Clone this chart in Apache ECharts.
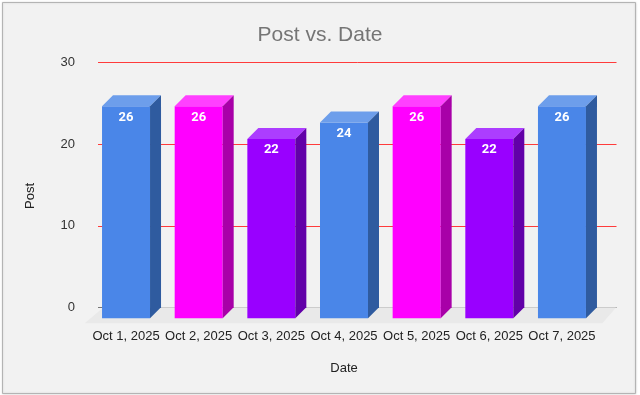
<!DOCTYPE html>
<html>
<head>
<meta charset="utf-8">
<script src="https://cdn.jsdelivr.net/npm/echarts@6/dist/echarts.min.js"></script>
<style>
html,body{margin:0;padding:0;background:#fff;}
#c{width:640px;height:395px;}
</style>
</head>
<body>
<div id="c"></div>
<script>
const categories = ['Oct 1, 2025','Oct 2, 2025','Oct 3, 2025','Oct 4, 2025','Oct 5, 2025','Oct 6, 2025','Oct 7, 2025'];
const postValues = [26, 26, 22, 24, 26, 22, 26];
const yTicks = [0, 10, 20, 30];

const palette = [
  {front:'#4a86e8', top:'#6d9eeb', side:'#2f5b9f'},
  {front:'#ff00ff', top:'#ff40ff', side:'#a800a8'},
  {front:'#9900ff', top:'#ac3dff', side:'#6200a8'}
];
const colorIdx = [0,1,2,0,1,2,0];
const DX = 11, DY = 11, BAR_W = 48;

const chart = echarts.init(document.getElementById('c'), null, {renderer:'canvas'});
chart.setOption({
  animation:false,
  backgroundColor:'#ffffff',
  graphic:[{type:'rect', z:-10, silent:true, shape:{x:2.5,y:2.5,width:633,height:391},
    style:{fill:'#f2f2f2', stroke:'#b4b4b4', lineWidth:1, shadowColor:'rgba(0,0,0,0.15)', shadowBlur:2}}],
  title:{text:'Post vs. Date', left:'center', top:20,
    textStyle:{fontFamily:'Liberation Sans, Arial', fontSize:21, fontWeight:'normal', color:'#757575'}},
  grid:[
    {left:98, right:23.5, top:62.7, bottom:87.7, containLabel:false},
    {left:89.7, right:41.7, top:73.7, bottom:76.7, containLabel:false}
  ],
  xAxis:[
    {gridIndex:0, type:'category', data:categories, show:false},
    {gridIndex:1, type:'category', data:categories, name:'Date', nameLocation:'middle', nameGap:44,
      nameTextStyle:{fontFamily:'Liberation Sans, Arial', fontSize:13, color:'#222'},
      axisLine:{show:false}, axisTick:{show:false},
      axisLabel:{margin:12, fontFamily:'Liberation Sans, Arial', fontSize:13, color:'#222', interval:0}}
  ],
  yAxis:[
    {gridIndex:0, type:'value', min:0, max:30, interval:10,
      axisLine:{show:false}, axisTick:{show:false},
      axisLabel:{margin:23, fontFamily:'Liberation Sans, Arial', fontSize:13, color:'#333',
        formatter:v => yTicks.indexOf(v) >= 0 ? String(v) : ''},
      splitLine:{show:true, lineStyle:{color:['#777777','#ff3b3b','#ff3b3b','#ff3b3b'], width:1}}},
    {gridIndex:1, type:'value', min:0, max:30, interval:10, name:'Post', nameLocation:'middle', nameGap:53,
      nameTextStyle:{fontFamily:'Liberation Sans, Arial', fontSize:13, color:'#222'},
      axisLine:{show:false}, axisTick:{show:false}, axisLabel:{show:false}, splitLine:{show:false}}
  ],
  series:[
    {
      type:'custom', xAxisIndex:1, yAxisIndex:1, z:1, silent:true,
      data:[[0,0]],
      renderItem:function(params, api){
        const band = api.size([1,0])[0];
        const a = api.coord([0,0]);
        const b = api.coord([categories.length-1,0]);
        const l = a[0]-band/2, r = b[0]+band/2, y = a[1];
        return {type:'polygon', shape:{points:[[l-5,y+5],[r+4,y+5],[r+DX+7,y-DY],[l+DX+3,y-DY]]},
          style:{fill:'#e9e9e9'}};
      }
    },
    {
      type:'custom', xAxisIndex:1, yAxisIndex:1, z:5,
      data:postValues.map((v,i)=>[i,v]),
      renderItem:function(params, api){
        const i = api.value(0), v = api.value(1);
        const p = api.coord([i, v]);
        const p0 = api.coord([i, 0]);
        const c = palette[colorIdx[params.dataIndex]];
        const l = p[0]-BAR_W/2, r = p[0]+BAR_W/2, t = p[1], bt = p0[1];
        return {type:'group', children:[
          {type:'rect', shape:{x:l, y:t, width:BAR_W, height:bt-t}, style:{fill:c.front}},
          {type:'polygon', shape:{points:[[l,t],[l+DX,t-DY],[r+DX,t-DY],[r,t]]}, style:{fill:c.top}},
          {type:'polygon', shape:{points:[[r,t],[r+DX,t-DY],[r+DX,bt-DY],[r,bt]]}, style:{fill:c.side}},
          {type:'text', style:{text:String(v), x:p[0], y:t+11, textAlign:'center', textVerticalAlign:'middle',
            fill:'#ffffff', font:'bold 13px Roboto, Liberation Sans, Arial'}}
        ]};
      }
    }
  ]
});
</script>
</body>
</html>
